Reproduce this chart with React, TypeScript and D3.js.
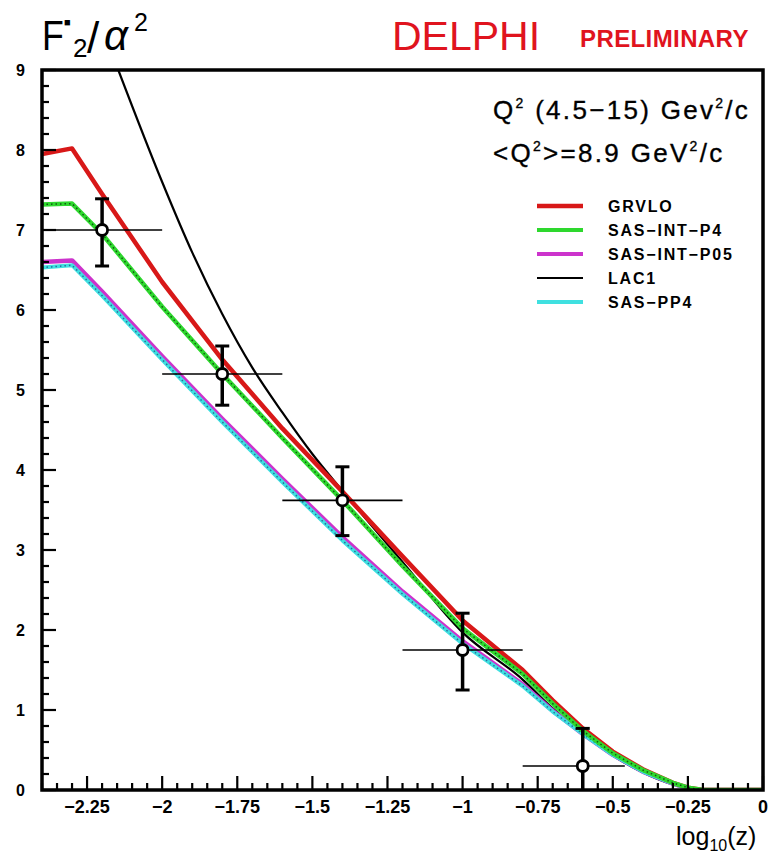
import React from "react";
import * as d3 from "d3";

// Photon structure function F2/alpha^2 vs log10(z), DELPHI preliminary

const W = 771;
const H = 853;

// Model curves, sampled in log10(z)
const curveX = [-2.4, -2.3, -2.2, -2.0, -1.8, -1.6, -1.4, -1.2, -1.0, -0.8, -0.7, -0.6, -0.5, -0.4, -0.3, -0.25, -0.2, 0];
const grvlo = [7.95, 8.02, 7.45, 6.35, 5.38, 4.52, 3.73, 2.92, 2.12, 1.5, 1.12, 0.77, 0.48, 0.26, 0.09, 0.03, 0, 0];
const sasIntP4 = [7.32, 7.33, 6.95, 6.04, 5.2, 4.4, 3.62, 2.8, 2.02, 1.45, 1.08, 0.74, 0.46, 0.25, 0.09, 0.03, 0, 0];
const sasIntP05 = [6.6, 6.62, 6.23, 5.42, 4.64, 3.89, 3.16, 2.48, 1.86, 1.32, 0.99, 0.7, 0.44, 0.23, 0.08, 0.02, 0, 0];
const sasPP4 = [6.53, 6.56, 6.18, 5.38, 4.6, 3.85, 3.12, 2.45, 1.83, 1.3, 0.98, 0.7, 0.44, 0.23, 0.08, 0.02, 0, 0];

const lacX = [-2.146, -2.0, -1.9, -1.8, -1.7, -1.6, -1.5, -1.4, -1.2, -1.0, -0.8, -0.7, -0.6, -0.5, -0.4, -0.3, -0.25, -0.2, 0];
const lac1 = [9.0, 7.6, 6.72, 5.95, 5.28, 4.72, 4.2, 3.74, 2.85, 1.97, 1.38, 1.02, 0.7, 0.43, 0.22, 0.07, 0.02, 0, 0];

// Measured points
const dataX = [-2.2, -1.8, -1.4, -1.0, -0.6];
const dataXLow = [-2.38, -2.0, -1.6, -1.2, -0.8];
const dataXHigh = [-2.0, -1.6, -1.2, -0.8, -0.46];
const dataY = [7.0, 5.2, 3.62, 1.75, 0.3];
const dataYLow = [6.55, 4.81, 3.18, 1.25, 0];
const dataYHigh = [7.39, 5.55, 4.04, 2.21, 0.77];

const xTicks = [-2.25, -2, -1.75, -1.5, -1.25, -1, -0.75, -0.5, -0.25, 0];
const yTicks = [0, 1, 2, 3, 4, 5, 6, 7, 8, 9];

const legendNames = ["GRVLO", "SAS\u2212INT\u2212P4", "SAS\u2212INT\u2212P05", "LAC1", "SAS\u2212PP4"];
const legendColors = ["#d81818", "#2ed82e", "#cc33cc", "#000000", "#3fe0e0"];
const legendWidths = [4.5, 4, 4, 2, 4];

const FONT = "'Liberation Sans', Arial, Helvetica, sans-serif";

export default function App() {
  const x = d3.scaleLinear().domain([-2.4, 0]).range([42, 763]);
  const y = d3.scaleLinear().domain([0, 9]).range([790, 70]);

  const line = d3
    .line<[number, number]>()
    .x((d) => x(d[0]))
    .y((d) => y(d[1]));
  const smooth = d3
    .line<[number, number]>()
    .x((d) => x(d[0]))
    .y((d) => y(d[1]))
    .curve(d3.curveMonotoneX);

  const pts = (xs: number[], ys: number[]) => xs.map((v, i) => [v, ys[i]] as [number, number]);

  const minorX = d3.range(-2.4, 0.0001, 0.05).map((v) => Math.round(v * 100) / 100);
  const minorY = d3.range(0, 9.0001, 0.2).map((v) => Math.round(v * 10) / 10);

  const legendY = d3.scaleLinear().domain([0, 4]).range([206, 302]);

  return (
    <svg width={W} height={H} style={{ position: "absolute", left: 0, top: 0, background: "#fff" }} fontFamily={FONT}>
      <rect x={0} y={0} width={W} height={H} fill="#fff" />
      <defs>
        <clipPath id="plotArea">
          <rect x={42} y={70} width={721} height={720} />
        </clipPath>
      </defs>

      {/* Title: F2 over alpha squared */}
      <g fill="#000">
        <text x={42} y={50} fontSize={42} transform="translate(42,0) scale(0.85,1) translate(-42,0)">F</text>
        <text x={64} y={26} fontSize={11}>{"\u25A0"}</text>
        <text x={73} y={57} fontSize={26}>2</text>
        <text x={87} y={53} fontSize={44}>/</text>
        <text x={104} y={50} fontSize={42} fontStyle="italic">{"\u03B1"}</text>
        <text x={134} y={31} fontSize={25}>2</text>
      </g>
      <text x={392} y={50} fontSize={41} fill="#e0141e">DELPHI</text>
      <text x={580} y={47} fontSize={24} fontWeight="bold" fill="#e0141e" letterSpacing={0.4}>PRELIMINARY</text>

      {/* Model curves */}
      <g clipPath="url(#plotArea)" fill="none" strokeLinejoin="round">
        <path d={smooth(pts(lacX, lac1)) ?? ""} stroke="#000" strokeWidth={2.2} />
        <path d={line(pts(curveX, sasIntP05)) ?? ""} stroke="#cc33cc" strokeWidth={4.5} />
        <path d={line(pts(curveX, sasPP4)) ?? ""} stroke="#3fe0e0" strokeWidth={4} />
        <path d={line(pts(curveX, sasPP4)) ?? ""} stroke="#224488" strokeWidth={1.5} strokeDasharray="1.5,3" opacity={0.75} />
        <path d={line(pts(curveX, grvlo)) ?? ""} stroke="#d81818" strokeWidth={4.5} />
        <path d={line(pts(curveX, sasIntP4)) ?? ""} stroke="#2ed82e" strokeWidth={4.5} />
        <path d={line(pts(curveX, sasIntP4)) ?? ""} stroke="#0a3a0a" strokeWidth={1.5} strokeDasharray="1.5,3" opacity={0.8} />
      </g>

      {/* Data points with error bars */}
      <g stroke="#000">
        {dataX.map((v, i) => (
          <g key={i}>
            <line x1={x(dataXLow[i])} x2={x(dataXHigh[i])} y1={y(dataY[i])} y2={y(dataY[i])} strokeWidth={1.6} />
            <line x1={x(v)} x2={x(v)} y1={y(dataYLow[i])} y2={y(dataYHigh[i])} strokeWidth={3.5} />
            <line x1={x(v) - 7} x2={x(v) + 7} y1={y(dataYHigh[i])} y2={y(dataYHigh[i])} strokeWidth={3} />
            {dataYLow[i] > 0 && (
              <line x1={x(v) - 7} x2={x(v) + 7} y1={y(dataYLow[i])} y2={y(dataYLow[i])} strokeWidth={3} />
            )}
            <circle cx={x(v)} cy={y(dataY[i])} r={5.5} fill="#fff" strokeWidth={2.8} />
          </g>
        ))}
      </g>

      {/* Frame */}
      <rect x={42} y={70} width={721} height={720} fill="none" stroke="#000" strokeWidth={3.5} />

      {/* Y axis ticks */}
      <g stroke="#000" strokeWidth={2.2}>
        {minorY.map((v, i) => {
          const major = Math.abs(v - Math.round(v)) < 1e-6;
          return <line key={i} x1={42} x2={42 + (major ? 14 : 7)} y1={y(v)} y2={y(v)} />;
        })}
      </g>
      <g fontSize={16} fontWeight="bold" textAnchor="end">
        {yTicks.map((v) => (
          <text key={v} x={25} y={y(v) + 6}>{v}</text>
        ))}
      </g>

      {/* X axis ticks */}
      <g stroke="#000" strokeWidth={2.2}>
        {minorX.map((v, i) => {
          const major = Math.abs(v / 0.25 - Math.round(v / 0.25)) < 1e-6;
          return <line key={i} x1={x(v)} x2={x(v)} y1={790} y2={790 - (major ? 14 : 7)} />;
        })}
      </g>
      <g fontSize={18} fontWeight="bold" textAnchor="middle">
        {xTicks.map((v) => (
          <text key={v} x={x(v)} y={813}>{v === 0 ? "0" : "\u2212" + String(Math.abs(v))}</text>
        ))}
      </g>
      <text x={676} y={845} fontSize={25}>
        log<tspan dy={6} fontSize={16}>10</tspan><tspan dy={-6}>(z)</tspan>
      </text>

      {/* Kinematic range */}
      <g fontSize={26} stroke="#000" strokeWidth={0.35} letterSpacing={2.3}>
        <text x={493} y={119}>
          Q<tspan dy={-11} fontSize={14}>2</tspan>
          <tspan dy={11}> (4.5{"\u2212"}15) Gev</tspan>
          <tspan dy={-11} fontSize={14}>2</tspan>
          <tspan dy={11}>/c</tspan>
        </text>
        <text x={493} y={162}>
          {"<Q"}<tspan dy={-11} fontSize={14}>2</tspan>
          <tspan dy={11}>{">=8.9 GeV"}</tspan>
          <tspan dy={-11} fontSize={14}>2</tspan>
          <tspan dy={11}>/c</tspan>
        </text>
      </g>

      {/* Legend */}
      {legendNames.map((name, i) => (
        <g key={name}>
          <line x1={537} x2={583} y1={legendY(i)} y2={legendY(i)} stroke={legendColors[i]} strokeWidth={legendWidths[i]} />
          <text x={608} y={legendY(i) + 6} fontSize={16} fontWeight="bold" letterSpacing={1.8}>{name}</text>
        </g>
      ))}
    </svg>
  );
}
